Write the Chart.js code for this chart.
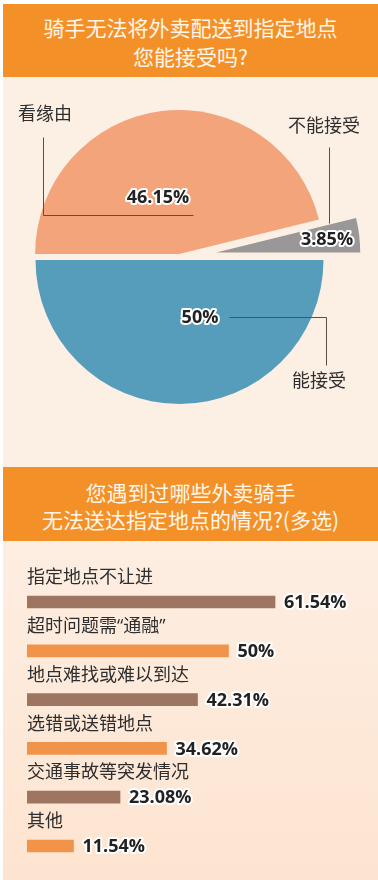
<!DOCTYPE html>
<html>
<head>
<meta charset="utf-8">
<script src="https://cdn.jsdelivr.net/npm/chart.js@4"></script>
<style>
    body { margin: 0; background: #ffffff; }
    #wrap { position: relative; width: 378px; height: 880px; overflow: hidden; }
    .panel { position: absolute; left: 3px; top: 4px; width: 375px; height: 876px;
             background: linear-gradient(#fcf0e5 0px, #fcefe4 460px, #fdeee2 540px, #fde4d0 876px); }
    .head { position: absolute; left: 3px; width: 375px; background: #f39128; color: #fff6ea;
            font-family: "Noto Sans CJK SC", sans-serif; font-size: 21px; text-align: center;
            box-sizing: border-box; }
    canvas { position: absolute; left: 0; }
</style>
</head>
<body>
<div id="wrap">
    <div class="panel"></div>
    <div class="head" style="top:4px;height:73px;padding-top:9px;line-height:29px;">骑手无法将外卖配送到指定地点<br>您能接受吗?</div>
    <canvas id="pieChart" width="378" height="360" style="top:80px"></canvas>
    <div class="head" style="top:467px;height:74px;padding-top:12px;line-height:27px;">您遇到过哪些外卖骑手<br>无法送达指定地点的情况?(多选)</div>
    <canvas id="barChart" width="378" height="320" style="top:560px"></canvas>
</div>
<script>
// pie: can riders' failure to deliver to the given spot be accepted
const pieLabels = ['看缘由', '不能接受', '能接受'];
const pieValues = [46.15, 3.85, 50];

// bars: situations where riders could not deliver (multiple choice)
const reasonLabels = ['指定地点不让进', '超时问题需“通融”', '地点难找或难以到达', '选错或送错地点', '交通事故等突发情况', '其他'];
const reasonValues = [61.54, 50, 42.31, 34.62, 23.08, 11.54];

const pieColors = ['#f3a47b', '#9a9798', '#559dbb'];
const sliceShift = [3, 37, 3];
const barColors = ['#9e7560', '#f2934a', '#9e7560', '#f2934a', '#9e7560', '#f2934a'];

const numFont = 'bold 18px "Open Sans", "DejaVu Sans", sans-serif';
const cjkFont = '18px "Open Sans", "Noto Sans CJK SC", sans-serif';
const lineColor = '#5b4d48';

function pct(v) {
    return String(v) + '%';
}

function outlinedText(ctx, text, x, y) {
    ctx.lineJoin = 'round';
    ctx.lineWidth = 4;
    ctx.strokeStyle = '#ffffff';
    ctx.strokeText(text, x, y);
    ctx.fillStyle = '#222222';
    ctx.fillText(text, x, y);
}

// pull each slice out along its middle angle
const explodePlugin = {
    id: 'explode',
    afterDatasetUpdate(chart, args) {
        args.meta.data.forEach(function(arc, i) {
            const mid = (arc.startAngle + arc.endAngle) / 2;
            arc.x += Math.cos(mid) * sliceShift[i];
            arc.y += Math.sin(mid) * sliceShift[i];
        });
    }
};

// label layout relative to the pie centre: name, name pos, value pos, leader line points
const pieNotes = [
    { name: [-161.5, -142], value: [-21.5, -59], line: [[-136.5, -120], [-136.5, -42], [13.5, -42]] },
    { name: [108.5, -130], value: [147.5, -17], line: [[149.5, -110], [149.5, -34]] },
    { name: [112.5, 125], value: [20.5, 61], line: [[49.5, 60], [146.5, 60], [146.5, 108]] }
];

const pieLabelPlugin = {
    id: 'pieLabels',
    afterDatasetsDraw(chart) {
        const ctx = chart.ctx;
        const area = chart.chartArea;
        const cx = (area.left + area.right) / 2;
        const cy = (area.top + area.bottom) / 2;
        ctx.save();
        pieNotes.forEach(function(n, i) {
            ctx.strokeStyle = lineColor;
            ctx.lineWidth = 1;
            ctx.beginPath();
            n.line.forEach(function(p, k) {
                const px = Math.round(cx + p[0]) + 0.5;
                const py = Math.round(cy + p[1]) + 0.5;
                if (k === 0) ctx.moveTo(px, py); else ctx.lineTo(px, py);
            });
            ctx.stroke();

            ctx.font = cjkFont;
            ctx.fillStyle = '#2e2e2e';
            ctx.textAlign = 'left';
            ctx.textBaseline = 'middle';
            ctx.fillText(pieLabels[i], cx + n.name[0], cy + n.name[1]);

            ctx.font = numFont;
            ctx.textAlign = 'center';
            outlinedText(ctx, pct(pieValues[i]), cx + n.value[0], cy + n.value[1]);
        });
        ctx.restore();
    }
};

const barLabelPlugin = {
    id: 'barLabels',
    afterDatasetsDraw(chart) {
        const ctx = chart.ctx;
        const bars = chart.getDatasetMeta(0).data;
        ctx.save();
        ctx.textBaseline = 'middle';
        ctx.textAlign = 'left';
        bars.forEach(function(bar, i) {
            ctx.font = cjkFont;
            ctx.fillStyle = '#2e2e2e';
            ctx.fillText(reasonLabels[i], chart.chartArea.left, bar.y - 24);
            ctx.font = numFont;
            outlinedText(ctx, pct(reasonValues[i]), bar.x + 9, bar.y + 1);
        });
        ctx.restore();
    }
};

function init() {
    new Chart(document.getElementById('pieChart'), {
        type: 'pie',
        data: {
            labels: pieLabels,
            datasets: [{
                data: pieValues,
                backgroundColor: pieColors,
                borderWidth: 0
            }]
        },
        options: {
            responsive: false,
            animation: false,
            events: [],
            rotation: -90,
            radius: 144,
            layout: { padding: { left: 0, right: 19, top: 0, bottom: 6 } },
            plugins: {
                legend: { display: false },
                tooltip: { enabled: false }
            }
        },
        plugins: [explodePlugin, pieLabelPlugin]
    });

    new Chart(document.getElementById('barChart'), {
        type: 'bar',
        data: {
            labels: reasonLabels,
            datasets: [{
                data: reasonValues,
                backgroundColor: barColors,
                borderWidth: 0,
                barThickness: 12
            }]
        },
        options: {
            indexAxis: 'y',
            responsive: false,
            animation: false,
            events: [],
            layout: { padding: { left: 27, right: 28.6, top: 17.6, bottom: 9.6 } },
            scales: {
                x: { display: false, min: 0, max: 80 },
                y: { display: false }
            },
            plugins: {
                legend: { display: false },
                tooltip: { enabled: false }
            }
        },
        plugins: [barLabelPlugin]
    });
}

init();
</script>
</body>
</html>
